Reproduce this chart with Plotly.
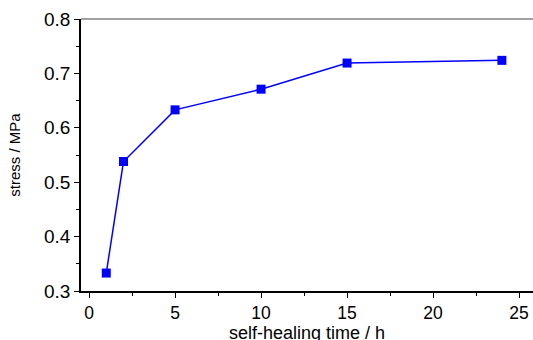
import plotly.graph_objects as go

time_h = [1, 2, 5, 10, 15, 24]
stress_mpa = [0.333, 0.538, 0.633, 0.671, 0.719, 0.724]
x_ticks = [0, 5, 10, 15, 20, 25]
y_ticks = [0.3, 0.4, 0.5, 0.6, 0.7, 0.8]
x_title = "self-healing time / h"
y_title = "stress / MPa"

fig = go.Figure()
fig.add_trace(go.Scatter(
    x=time_h, y=stress_mpa, mode="lines+markers",
    line=dict(color="#0000FF", width=1.5),
    marker=dict(symbol="square", size=9, color="#0000FF"),
    showlegend=False,
))

font = "Liberation Sans, Arial, sans-serif"
plot_h = 340 - 19 - 49
fig.update_layout(
    width=533, height=340,
    margin=dict(l=81, r=0, t=19, b=49),
    paper_bgcolor="white", plot_bgcolor="white",
    font=dict(family=font, color="black"),
    xaxis=dict(
        range=[-0.47, 25.81], tickvals=x_ticks, showgrid=False, zeroline=False,
        automargin=False,
        showline=True, linecolor="black", linewidth=1.5,
        ticks="outside", ticklen=5, tickwidth=1.2, tickcolor="black",
        minor=dict(ticks="outside", ticklen=3, tickwidth=1.2, tickcolor="black", dtick=2.5),
        tickfont=dict(size=17.5, family=font),
    ),
    yaxis=dict(
        range=[0.3, 0.8], tickvals=y_ticks, tickformat=".1f", showgrid=False, zeroline=False,
        automargin=False,
        showline=True, linecolor="black", linewidth=1.5,
        ticks="outside", ticklen=5, tickwidth=1.2, tickcolor="black",
        minor=dict(ticks="outside", ticklen=3, tickwidth=1.2, tickcolor="black", dtick=0.05),
        tickfont=dict(size=19, family=font),
        title=dict(text=y_title, font=dict(size=15, family=font), standoff=20),
    ),
    annotations=[dict(text=x_title, xref="paper", yref="paper", x=0.5, y=-(333 - 291) / plot_h,
                      xanchor="center", yanchor="middle", showarrow=False,
                      font=dict(size=18, family=font, color="black"))],
    shapes=[dict(type="line", xref="paper", yref="paper", x0=0, x1=1, y0=1, y1=1,
                 line=dict(color="#444444", width=1.2))],
)
fig.write_html("out.html")
